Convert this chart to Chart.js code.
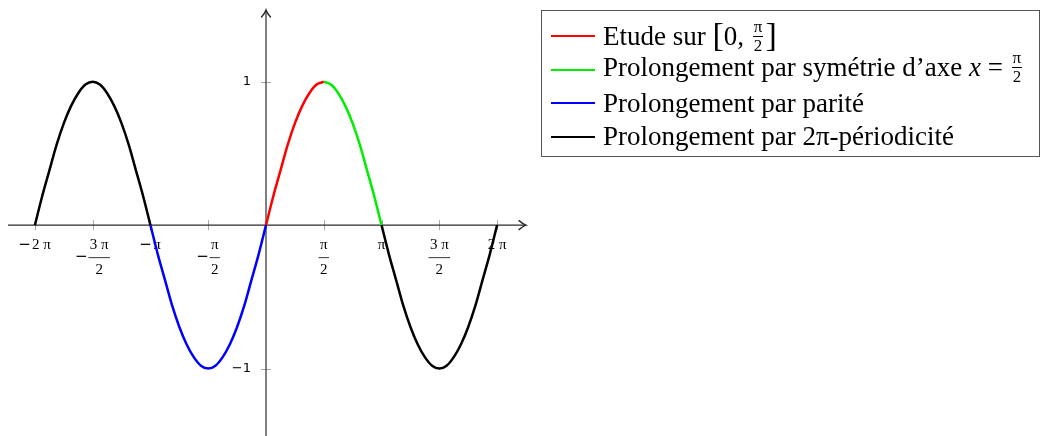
<!DOCTYPE html>
<html>
<head>
<meta charset="utf-8">
<script src="https://cdn.jsdelivr.net/npm/chart.js@4.4.1/dist/chart.umd.min.js"></script>
<style>
  html, body { margin: 0; padding: 0; background: #fff; }
  #wrap { position: relative; width: 1044px; height: 436px; }
  #legende {
    position: absolute; left: 541px; top: 10px; width: 499px; height: 147px;
    box-sizing: border-box; border: 1px solid #555; padding-top: 8px;
    font-family: "Liberation Serif", serif; font-size: 27px; color: #000;
  }
  .ligne { display: flex; align-items: center; height: 33.7px; white-space: nowrap; }
  .trait { width: 44px; height: 2px; margin-left: 9px; margin-right: 8px; flex: none; }
  .frac { display: inline-flex; flex-direction: column; align-items: center; font-size: 17px;
          line-height: 1; vertical-align: middle; margin: 0 2px; position: relative; top: -3px; }
  .frac span:first-child { border-bottom: 1px solid #000; padding: 0 1px 1px; }
  .br { font-size: 34px; font-weight: 100; position: relative; top: 1px; }
  .mx { font-style: italic; }
</style>
</head>
<body>
<div id="wrap">
  <canvas id="courbe" width="1044" height="436"></canvas>
  <div id="legende"></div>
</div>
<script>
// abscisses en multiples de pi
const redX = [0, 0.0625, 0.125, 0.1875, 0.25, 0.3125, 0.375, 0.4375, 0.5];
const redY = [0, 0.20, 0.38, 0.56, 0.71, 0.83, 0.92, 0.98, 1];
const greenX = [0.5, 0.5625, 0.625, 0.6875, 0.75, 0.8125, 0.875, 0.9375, 1];
const greenY = [1, 0.98, 0.92, 0.83, 0.71, 0.56, 0.38, 0.20, 0];
const blueX = [-1, -0.9375, -0.875, -0.8125, -0.75, -0.6875, -0.625, -0.5625, -0.5,
               -0.4375, -0.375, -0.3125, -0.25, -0.1875, -0.125, -0.0625, 0];
const blueY = [0, -0.20, -0.38, -0.56, -0.71, -0.83, -0.92, -0.98, -1,
               -0.98, -0.92, -0.83, -0.71, -0.56, -0.38, -0.20, 0];
const blackLeftX = [-2, -1.9375, -1.875, -1.8125, -1.75, -1.6875, -1.625, -1.5625, -1.5,
                    -1.4375, -1.375, -1.3125, -1.25, -1.1875, -1.125, -1.0625, -1];
const blackLeftY = [0, 0.20, 0.38, 0.56, 0.71, 0.83, 0.92, 0.98, 1,
                    0.98, 0.92, 0.83, 0.71, 0.56, 0.38, 0.20, 0];
const blackRightX = [1, 1.0625, 1.125, 1.1875, 1.25, 1.3125, 1.375, 1.4375, 1.5,
                     1.5625, 1.625, 1.6875, 1.75, 1.8125, 1.875, 1.9375, 2];
const blackRightY = [0, -0.20, -0.38, -0.56, -0.71, -0.83, -0.92, -0.98, -1,
                     -0.98, -0.92, -0.83, -0.71, -0.56, -0.38, -0.20, 0];

const xTickValues = [-2, -1.5, -1, -0.5, 0.5, 1, 1.5, 2];
const xTickLabels = ['−2 π', '−3 π/2', '−π', '−π/2', 'π/2', 'π', '3 π/2', '2 π'];
const yTickValues = [-1, 1];
const yTickLabels = ['−1', '1'];

const legendLabels = [
  'Etude sur <span class="br">[</span>0, <span class="frac"><span>π</span><span>2</span></span><span class="br">]</span>',
  'Prolongement par symétrie d’axe <span class="mx">x</span>&nbsp;= <span class="frac"><span>π</span><span>2</span></span>',
  'Prolongement par parité',
  'Prolongement par 2π-périodicité'
];

const pts = (xs, ys) => xs.map((v, i) => ({ x: v, y: ys[i] }));

const datasets = [
  { label: 'Etude sur [0, π/2]', data: pts(redX, redY), borderColor: '#ff0000' },
  { label: 'Prolongement par symétrie d’axe x = π/2', data: pts(greenX, greenY), borderColor: '#00ee00' },
  { label: 'Prolongement par parité', data: pts(blueX, blueY), borderColor: '#0000ff' },
  { label: 'Prolongement par 2π-périodicité',
    data: [...pts(blackLeftX, blackLeftY), { x: 0, y: null }, ...pts(blackRightX, blackRightY)],
    borderColor: '#000000' }
];

// petit moins large, dessine a part pour qu'il ressemble a celui des formules
function moins(ctx, cx, cy) {
  ctx.save();
  ctx.font = '15px "DejaVu Sans"';
  ctx.textAlign = 'center';
  ctx.fillText('−', cx, cy);
  ctx.restore();
}

// axes qui se croisent a l'origine, fleches et graduations
const repere = {
  id: 'repere',
  beforeDatasetsDraw(chart) {
    const { ctx, chartArea: a, scales: { x, y } } = chart;
    const x0 = x.getPixelForValue(0), y0 = y.getPixelForValue(0);
    const seg = (x1, y1, x2, y2) => { ctx.beginPath(); ctx.moveTo(x1, y1); ctx.lineTo(x2, y2); ctx.stroke(); };
    ctx.save();

    ctx.strokeStyle = '#a8a8a8';
    ctx.lineWidth = 1;
    xTickValues.forEach(v => { const px = Math.round(x.getPixelForValue(v)) + 0.5; seg(px, y0 - 5, px, y0 + 5); });
    yTickValues.forEach(v => { const py = Math.round(y.getPixelForValue(v)) + 0.5; seg(x0 - 5, py, x0 + 5, py); });

    ctx.strokeStyle = '#2a2a2a';
    ctx.lineWidth = 1.2;
    seg(a.left + 2, y0, a.right - 1, y0);
    seg(x0, a.bottom, x0, a.top + 1);

    // pointes de fleche
    ctx.lineWidth = 1.4;
    ctx.lineCap = 'round';
    ctx.beginPath();
    ctx.moveTo(a.right - 7, y0 - 4.5);
    ctx.quadraticCurveTo(a.right - 3, y0 - 1, a.right, y0);
    ctx.quadraticCurveTo(a.right - 3, y0 + 1, a.right - 7, y0 + 4.5);
    ctx.stroke();
    ctx.beginPath();
    ctx.moveTo(x0 - 4.5, a.top + 7);
    ctx.quadraticCurveTo(x0 - 1, a.top + 3, x0, a.top);
    ctx.quadraticCurveTo(x0 + 1, a.top + 3, x0 + 4.5, a.top + 7);
    ctx.stroke();

    ctx.fillStyle = '#000';
    ctx.strokeStyle = '#000';
    ctx.font = '15px "Liberation Serif"';
    ctx.textBaseline = 'middle';
    ctx.textAlign = 'center';
    xTickValues.forEach((v, i) => {
      const px = x.getPixelForValue(v);
      const s = xTickLabels[i];
      const neg = s[0] === '−';
      const body = neg ? s.slice(1) : s;
      const ws = neg ? 13 : 0;
      if (body.indexOf('/') < 0) {
        const w = ctx.measureText(body).width;
        const left = px - (ws + w) / 2;
        if (neg) moins(ctx, left + ws / 2 - 1, y0 + 20);
        ctx.fillText(body, left + ws + w / 2, y0 + 20);
        return;
      }
      const [num, den] = body.split('/');
      const wf = Math.max(ctx.measureText(num).width, ctx.measureText(den).width) + 2;
      const left = px - (ws + wf) / 2;
      if (neg) moins(ctx, left + ws / 2 - 1, y0 + 32);
      ctx.fillText(num, left + ws + wf / 2, y0 + 20);
      ctx.fillText(den, left + ws + wf / 2, y0 + 45);
      ctx.lineWidth = 0.8;
      seg(left + ws, y0 + 32.5, left + ws + wf, y0 + 32.5);
    });
    ctx.font = '13px "DejaVu Sans"';
    ctx.textAlign = 'right';
    yTickValues.forEach((v, i) => ctx.fillText(yTickLabels[i], x0 - 15, y.getPixelForValue(v)));
    ctx.restore();
  }
};

// legende HTML (les fractions ne passent pas dans la legende canvas)
const legendeHtml = {
  id: 'legendeHtml',
  afterUpdate(chart) {
    const box = document.getElementById('legende');
    box.innerHTML = '';
    chart.data.datasets.forEach((ds, i) => {
      const row = document.createElement('div');
      row.className = 'ligne';
      row.innerHTML = '<span class="trait" style="background:' + ds.borderColor + '"></span><span>' + legendLabels[i] + '</span>';
      box.appendChild(row);
    });
  }
};

new Chart(document.getElementById('courbe'), {
  type: 'line',
  data: { datasets },
  options: {
    responsive: false,
    animation: false,
    layout: { padding: { left: 6, right: 518, top: 10, bottom: 0 } },
    scales: {
      x: { type: 'linear', min: -2.25, max: 2.25, display: false },
      y: { min: -1.47, max: 1.5, display: false }
    },
    elements: { point: { radius: 0 }, line: { borderWidth: 2.5, cubicInterpolationMode: 'monotone' } },
    spanGaps: false,
    plugins: { legend: { display: false }, tooltip: { enabled: false } }
  },
  plugins: [repere, legendeHtml]
});
</script>
</body>
</html>
